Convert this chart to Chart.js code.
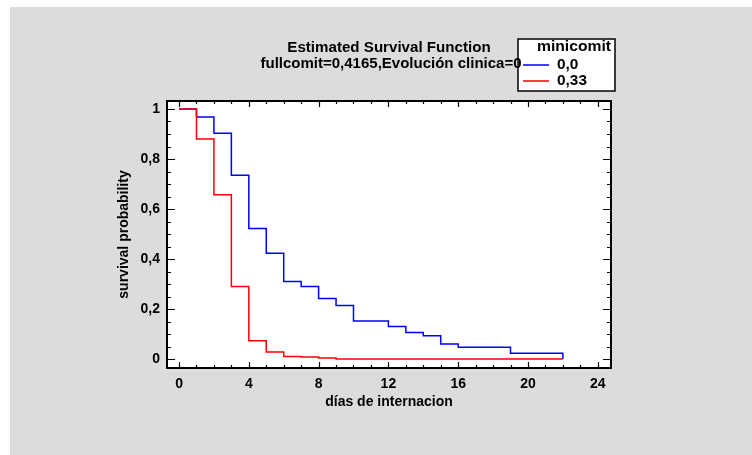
<!DOCTYPE html>
<html>
<head>
<meta charset="utf-8">
<script src="https://cdn.jsdelivr.net/npm/chart.js@4.4.1/dist/chart.umd.min.js"></script>
<style>
  html, body { margin: 0; padding: 0; background: #fff; }
  #wrap { width: 752px; height: 455px; }
</style>
</head>
<body>
<div id="wrap"><canvas id="survivalChart" width="752" height="455"></canvas></div>
<script>
// Kaplan-Meier estimates
const groupLabels = ['0,0', '0,33'];
const blueDays = [0, 1, 2, 3, 4, 5, 6, 7, 8, 9, 10, 12, 13, 14, 15, 16, 19, 22];
const blueSurvival = [1, 0.968, 0.903, 0.735, 0.522, 0.423, 0.31, 0.29, 0.242, 0.214, 0.152, 0.13, 0.106, 0.093, 0.06, 0.047, 0.023, 0];
const redDays = [0, 1, 2, 3, 4, 5, 6, 7, 8, 9, 22];
const redSurvival = [1, 0.88, 0.657, 0.29, 0.073, 0.028, 0.01, 0.008, 0.004, 0, 0];

const xTicks = [0, 4, 8, 12, 16, 20, 24];
const xTickLabels = ['0', '4', '8', '12', '16', '20', '24'];
const yTicks = [0, 0.2, 0.4, 0.6, 0.8, 1];
const yTickLabels = ['0', '0,2', '0,4', '0,6', '0,8', '1'];
const xMinorStep = 1;
const yMinorStep = 0.05;

const titleText = 'Estimated Survival Function';
const subtitleText = 'fullcomit=0,4165,Evolución clinica=0';
const legendTitle = 'minicomit';

const boldFont = { family: 'Arial, "Liberation Sans"', size: 14, weight: 'bold' };
const fontStr = 'bold 14px Arial, "Liberation Sans"';

// draw text a little wider, like the original renderer
function wideText(ctx, text, x, y, align, sx) {
  ctx.save();
  ctx.translate(x, y);
  ctx.scale(sx, 1);
  ctx.textAlign = align;
  ctx.fillText(text, 0, 0);
  ctx.restore();
}

// background, frame, inner ticks, titles and the boxed legend
const decorations = {
  id: 'decorations',
  beforeDraw(chart) {
    const { ctx, chartArea: a } = chart;
    ctx.save();
    ctx.fillStyle = '#fff';
    ctx.fillRect(0, 0, chart.width, chart.height);
    ctx.fillStyle = '#dcdcdc';
    ctx.fillRect(10, 7, chart.width - 10, chart.height - 7);
    ctx.fillStyle = '#fff';
    ctx.fillRect(a.left, a.top, a.right - a.left, a.bottom - a.top);
    ctx.restore();
  },
  afterDraw(chart) {
    const { ctx, chartArea: a } = chart;
    const xs = chart.scales.x, ys = chart.scales.y;
    ctx.save();
    ctx.strokeStyle = '#000';
    ctx.lineWidth = 1.2;
    ctx.beginPath();
    for (let v = 0; v <= 24.001; v += xMinorStep) {
      const px = Math.round(xs.getPixelForValue(v)) + 0.5;
      const len = xTicks.includes(Math.round(v)) ? 6 : 3;
      ctx.moveTo(px, a.bottom); ctx.lineTo(px, a.bottom - len);
      ctx.moveTo(px, a.top); ctx.lineTo(px, a.top + len);
    }
    for (let i = 0; i <= 20; i++) {
      const v = i * yMinorStep;
      const py = Math.round(ys.getPixelForValue(v)) + 0.5;
      const len = i % 4 === 0 ? 8 : 4;
      ctx.moveTo(a.left, py); ctx.lineTo(a.left + len, py);
      ctx.moveTo(a.right, py); ctx.lineTo(a.right - len, py);
    }
    ctx.stroke();
    ctx.lineWidth = 2;
    ctx.strokeRect(a.left, a.top, a.right - a.left, a.bottom - a.top);

    ctx.font = fontStr;
    ctx.textBaseline = 'middle';

    // legend box
    ctx.fillStyle = '#fff';
    ctx.fillRect(518, 39, 97, 52);
    ctx.lineWidth = 1.5;
    ctx.strokeStyle = '#000';
    ctx.strokeRect(518, 39, 97, 52);
    ctx.fillStyle = '#000';
    wideText(ctx, legendTitle, 574, 47, 'center', 1.12);
    const sets = chart.data.datasets;
    [65, 81].forEach((ly, i) => {
      ctx.strokeStyle = sets[i].borderColor;
      ctx.lineWidth = 1.5;
      ctx.beginPath();
      ctx.moveTo(523, ly); ctx.lineTo(549, ly);
      ctx.stroke();
      wideText(ctx, sets[i].label, 557, ly, 'left', 1.1);
    });

    // titles (drawn over the legend border, as in the original)
    const cx = (a.left + a.right) / 2;
    ctx.fillStyle = '#000';
    wideText(ctx, titleText, cx, 48, 'center', 1.08);
    wideText(ctx, subtitleText, cx + 2, 64, 'center', 1.072);
    ctx.restore();
  }
};

const toPoints = (days, surv) => days.map((d, i) => ({ x: d, y: surv[i] }));

new Chart(document.getElementById('survivalChart'), {
  type: 'line',
  data: {
    datasets: [
      {
        label: groupLabels[0],
        data: toPoints(blueDays, blueSurvival),
        borderColor: '#0000ff',
        borderWidth: 1.5,
        stepped: 'before',
        pointRadius: 0,
        fill: false,
        order: 1
      },
      {
        label: groupLabels[1],
        data: toPoints(redDays, redSurvival),
        borderColor: '#ff0000',
        borderWidth: 1.5,
        stepped: 'before',
        pointRadius: 0,
        fill: false,
        order: 0
      }
    ]
  },
  options: {
    responsive: false,
    animation: false,
    devicePixelRatio: 1,
    layout: { padding: { top: 101, right: 141, left: 0, bottom: 0 } },
    plugins: {
      legend: { display: false },
      title: { display: false },
      tooltip: { enabled: false }
    },
    scales: {
      x: {
        type: 'linear',
        min: -0.69,
        max: 24.76,
        afterBuildTicks: s => { s.ticks = xTicks.map(v => ({ value: v })); },
        afterFit: s => { s.height = 87; },
        grid: { display: false, drawTicks: false },
        border: { display: false },
        ticks: {
          color: '#000',
          font: boldFont,
          padding: 8,
          maxRotation: 0,
          autoSkip: false,
          callback: v => xTickLabels[xTicks.indexOf(v)]
        },
        title: {
          display: true,
          text: 'días de internacion',
          color: '#000',
          font: boldFont,
          padding: { top: 0, bottom: 44 }
        }
      },
      y: {
        type: 'linear',
        min: -0.036,
        max: 1.032,
        afterBuildTicks: s => { s.ticks = yTicks.map(v => ({ value: v })); },
        afterFit: s => { s.width = 167; },
        grid: { display: false, drawTicks: false },
        border: { display: false },
        ticks: {
          color: '#000',
          font: boldFont,
          padding: 7,
          autoSkip: false,
          callback: v => yTickLabels[yTicks.indexOf(v)]
        },
        title: {
          display: true,
          text: 'survival probability',
          color: '#000',
          font: boldFont,
          padding: { top: 116, bottom: 0 }
        }
      }
    }
  },
  plugins: [decorations]
});
</script>
</body>
</html>
